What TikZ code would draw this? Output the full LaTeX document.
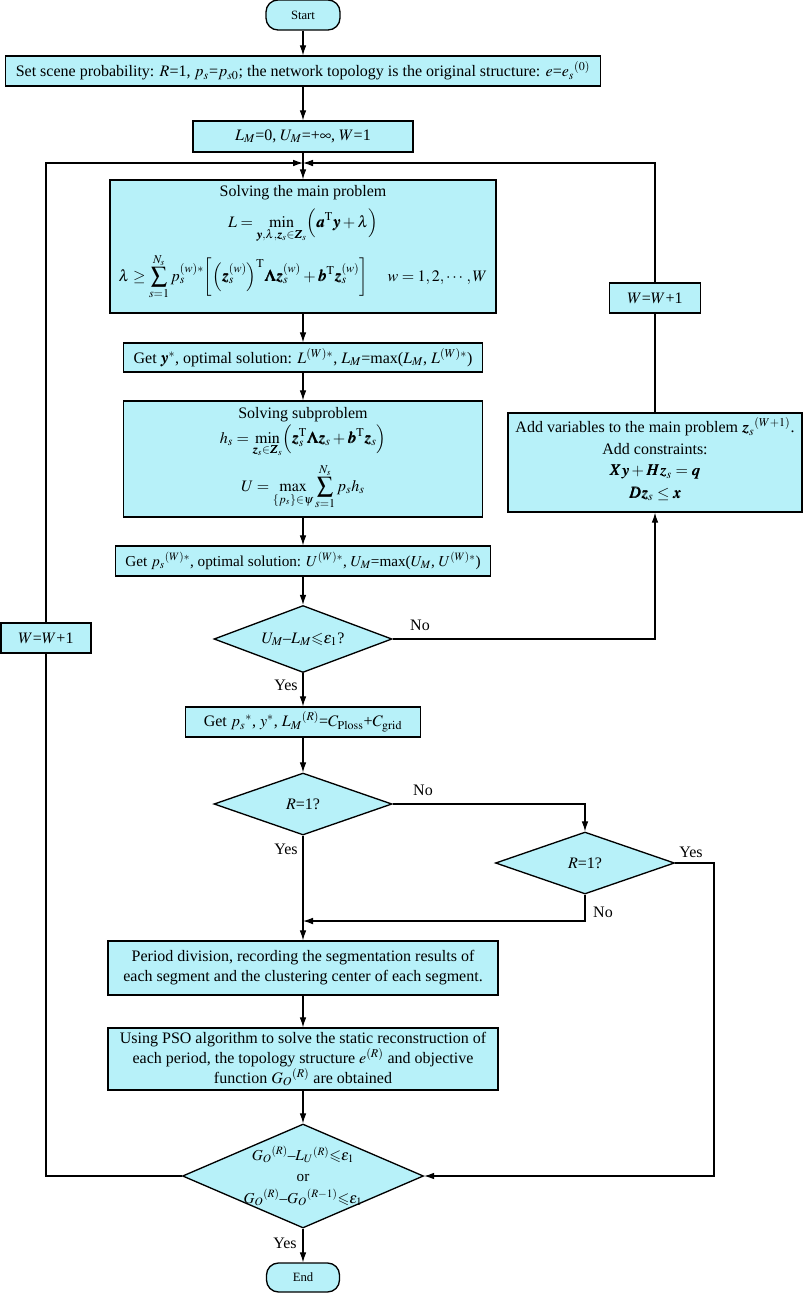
\documentclass[tikz,border=0pt]{standalone}
\usepackage{amsmath}
\usepackage{mathptmx}
\usepackage{amssymb}
\usepackage{bm}
\usepackage{fontspec}
\setmainfont{Liberation Serif}
\usetikzlibrary{arrows.meta,shapes.geometric}
\definecolor{boxfill}{RGB}{183,241,249}
\tikzset{
 every node/.style={font=\fontsize{12pt}{15pt}\selectfont},
 boxst/.style={draw, line width=1pt, fill=boxfill, inner sep=0pt},
 sz/.style 2 args={minimum width=#1*0.75pt, minimum height=#2*0.75pt},
 term/.style={boxst, rounded corners=9pt},
 dia/.style={boxst, diamond},
 txt/.style={inner sep=0pt, align=center},
 lbl/.style={inner sep=0pt},
 arr/.style={line width=0.8pt, -{Latex[length=7.5pt,width=5pt]}},
 ln/.style={line width=0.8pt},
}
\begin{document}
\begin{tikzpicture}[x=0.75pt,y=-0.75pt]
\fill[white] (0,0) rectangle (803,1293);
\useasboundingbox (0,0) rectangle (803,1293);

\node[term, sz={74}{30}] (start) at (303,15) {};
\node[txt, font=\fontsize{9.5pt}{11pt}\selectfont] (tstart) at (start) {Start};

\node[boxst, sz={595}{30}] (b1) at (303,71) {};
\node[txt] (tb1) at (b1) {Set scene probability: $R$=1, $p_s$=$p_{s0}$; the network topology is the original structure: $e$=${e_s}^{(0)}$};

\node[boxst, sz={220}{31}] (lm) at (303,136.5) {};
\node[txt] (tlm) at (lm) {$L_M$=0, $U_M$=+$\infty$, $W$=1};

\coordinate (j1) at (303,163);

\node[boxst, sz={386}{133}] (main) at (303,246.5) {};
\node[txt] (tm1) at (303,193) {Solving the main problem};
\node[txt] (tm2) at (303,226) {$\displaystyle L=\min_{\bm{y},\lambda,\bm{z}_s\in\bm{Z}_s}\Bigl(\bm{a}^{\mathrm{T}}\bm{y}+\lambda\Bigr)$};
\node[txt] (tm3) at (303,277) {$\displaystyle \lambda\ge\sum_{s=1}^{N_s}p_s^{(w)*}\biggl[\Bigl(\bm{z}_s^{(w)}\Bigr)^{\mathrm{T}}\bm{\Lambda}\bm{z}_s^{(w)}+\bm{b}^{\mathrm{T}}\bm{z}_s^{(w)}\biggr]\quad\; w=1,2,\cdots,W$};

\node[boxst, sz={359}{29}] (gy) at (303,357.5) {};
\node[txt] (tgy) at (gy) {Get $\bm{y}^*$, optimal solution: $L^{(W)*}$, $L_M$=max($L_M$, $L^{(W)*}$)};

\node[boxst, sz={359}{116}] (sub) at (303,459) {};
\node[txt] (ts1) at (303,415) {Solving subproblem};
\node[txt] (ts2) at (303,441) {$\displaystyle h_s=\min_{\bm{z}_s\in\bm{Z}_s}\Bigl(\bm{z}_s^{\mathrm{T}}\bm{\Lambda}\bm{z}_s+\bm{b}^{\mathrm{T}}\bm{z}_s\Bigr)$};
\node[txt] (ts3) at (303,487) {$\displaystyle U=\max_{\{p_s\}\in\psi}\sum_{s=1}^{N_s}p_sh_s$};

\node[boxst, sz={375}{30}] (gp) at (303,561) {};
\node[txt, font=\fontsize{11.4pt}{15pt}\selectfont] (tgp) at (gp) {Get ${p_s}^{(W)*}$, optimal solution: $U^{(W)*}$, $U_M$=max($U_M$, $U^{(W)*}$)};

\node[dia, sz={178}{67}] (d1) at (303,639) {};
\node[txt] (td1) at (d1) {$U_M$–$L_M{\leqslant}\varepsilon_1$?};

\node[boxst, sz={90}{30}] (lw) at (46,638) {};
\node[txt] (tlw) at (lw) {$W$=$W$+1};

\node[boxst, sz={91}{30}] (rw) at (655,298) {};
\node[txt] (trw) at (rw) {$W$=$W$+1};

\node[boxst, sz={294}{99}] (add) at (655,462.5) {};
\node[txt] (ta1) at (655,427) {Add variables to the main problem ${\bm{z}_s}^{(W+1)}$.};
\node[txt] (ta2) at (655,449) {Add constraints:};
\node[txt] (ta3) at (655,472) {$\bm{X}\bm{y}+\bm{H}\bm{z}_s=\bm{q}$};
\node[txt] (ta4) at (655,494) {$\bm{D}\bm{z}_s\le\bm{x}$};

\node[boxst, sz={235}{30}] (gps) at (303,722) {};
\node[txt] (tgps) at (gps) {Get ${p_s}^{*}$, $y^*$, ${L_M}^{(R)}$=$C_{\mathrm{Ploss}}$+$C_{\mathrm{grid}}$};

\node[dia, sz={178}{62}] (d2) at (303,804) {};
\node[txt] (td2) at (d2) {$R$=1?};

\node[dia, sz={179}{62}] (d3) at (585,863) {};
\node[txt] (td3) at (d3) {$R$=1?};

\coordinate (j2) at (303,921);
\coordinate (c3) at (714,863);

\node[boxst, sz={390}{54}] (per) at (303,968) {};
\node[txt] (tper) at (per) {Period division, recording the segmentation results of\\each segment and the clustering center of each segment.};

\node[boxst, sz={390}{62}] (pso) at (303,1059) {};
\node[txt] (tpso) at (pso) {Using PSO algorithm to solve the static reconstruction of\\each period, the topology structure $e^{(R)}$ and objective\\function ${G_O}^{(R)}$ are obtained};

\node[dia, sz={241}{104}] (d4) at (303,1176) {};
\node[txt, font=\fontsize{11.4pt}{16pt}\selectfont] (td4) at (d4) {${G_O}^{(R)}$–${L_U}^{(R)}{\leqslant}\varepsilon_1$\\or\\${G_O}^{(R)}$–${G_O}^{(R-1)}{\leqslant}\varepsilon_1$};

\node[term, sz={73}{29}] (end) at (303,1277.5) {};
\node[txt, font=\fontsize{9.5pt}{11pt}\selectfont] (tend) at (end) {End};

% connectors
\draw[arr] (start) -- (b1);
\draw[arr] (b1) -- (lm);
\draw[arr] (lm) -- (main);
\draw[arr] (main) -- (gy);
\draw[arr] (gy) -- (sub);
\draw[arr] (sub) -- (gp);
\draw[arr] (gp) -- (d1);
\draw[arr] (d1) -- (gps);
\draw[arr] (gps) -- (d2);
\draw[arr] (d2.east) -| (d3.north);
\draw[ln] (d2.south) -- (j2);
\draw[arr] (d3.south) |- (j2);
\draw[arr] (j2) -- (per.north);
\draw[arr] (per) -- (pso);
\draw[arr] (pso) -- (d4.north);
\draw[arr] (d4.south) -- (end.north);
\draw[arr] (d3.east) -- (c3) |- (d4.east);
\draw[ln] (d4.west) -| (lw.south);
\draw[arr] (lw.north) |- (j1);
\draw[arr] (d1.east) -| (add.south);
\draw[ln] (add.north) -- (rw.south);
\draw[arr] (rw.north) |- (j1);

% labels
\node[lbl] (l1) at (420,625) {No};
\node[lbl] (l2) at (286,685) {Yes};
\node[lbl] (l3) at (423,790) {No};
\node[lbl] (l4) at (286,849) {Yes};
\node[lbl] (l5) at (691,852) {Yes};
\node[lbl] (l6) at (603,912) {No};
\node[lbl] (l7) at (285,1243) {Yes};
\end{tikzpicture}
\end{document}
